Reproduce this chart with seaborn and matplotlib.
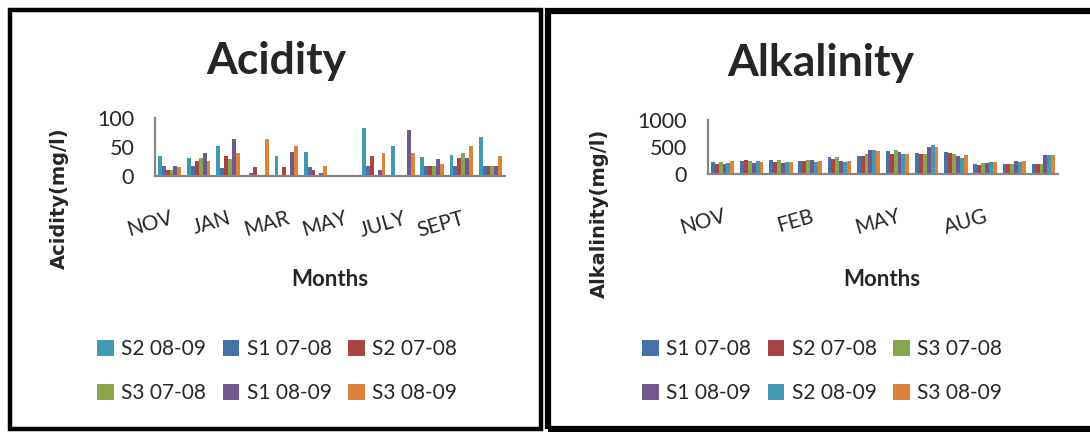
import matplotlib
matplotlib.use("Agg")
import matplotlib.pyplot as plt
from matplotlib.patches import Rectangle
import pandas as pd
import seaborn as sns

months = ["NOV", "DEC", "JAN", "FEB", "MAR", "APR",
          "MAY", "JUN", "JULY", "AUG", "SEPT", "OCT"]

# Acidity (mg/l), one list per station/season
acid_series = ["S2 08-09", "S1 07-08", "S2 07-08", "S3 07-08", "S1 08-09", "S3 08-09"]
acid_s2_0809 = [34, 31, 51, 0, 34, 41, 0, 83, 51, 33, 37, 67]
acid_s1_0708 = [18, 18, 13, 6, 0, 15, 0, 18, 0, 18, 18, 18]
acid_s2_0708 = [10, 26, 34, 15, 15, 10, 0, 34, 0, 18, 31, 18]
acid_s3_0708 = [10, 31, 29, 2, 2, 2, 0, 0, 0, 18, 39, 18]
acid_s1_0809 = [18, 39, 63, 0, 41, 5, 0, 10, 79, 29, 31, 18]
acid_s3_0809 = [15, 26, 39, 63, 51, 18, 0, 39, 39, 20, 51, 34]

# Alkalinity (mg/l)
alk_series = ["S1 07-08", "S2 07-08", "S3 07-08", "S1 08-09", "S2 08-09", "S3 08-09"]
alk_s1_0708 = [224, 244, 263, 244, 308, 340, 423, 397, 404, 192, 179, 192]
alk_s2_0708 = [192, 263, 224, 244, 276, 340, 378, 378, 385, 160, 179, 192]
alk_s3_0708 = [224, 244, 263, 263, 320, 365, 442, 378, 372, 205, 186, 186]
alk_s1_0809 = [192, 205, 205, 263, 237, 449, 404, 506, 333, 205, 237, 353]
alk_s2_0809 = [205, 244, 224, 231, 231, 449, 378, 538, 295, 224, 231, 353]
alk_s3_0809 = [237, 224, 224, 244, 237, 430, 378, 500, 359, 231, 237, 353]

acid_ticks = ["NOV", "JAN", "MAR", "MAY", "JULY", "SEPT"]
alk_ticks = ["NOV", "FEB", "MAY", "AUG"]

colors = {
    "S1 07-08": "#4672A8",
    "S2 07-08": "#A94442",
    "S3 07-08": "#89A54D",
    "S1 08-09": "#71588F",
    "S2 08-09": "#4299B1",
    "S3 08-09": "#DB843A",
}


def long_frame(names, columns):
    rows = []
    for name, vals in zip(names, columns):
        for m, v in zip(months, vals):
            rows.append({"month": m, "series": name, "value": v})
    return pd.DataFrame(rows)


acid_df = long_frame(acid_series, [acid_s2_0809, acid_s1_0708, acid_s2_0708,
                                   acid_s3_0708, acid_s1_0809, acid_s3_0809])
alk_df = long_frame(alk_series, [alk_s1_0708, alk_s2_0708, alk_s3_0708,
                                 alk_s1_0809, alk_s2_0809, alk_s3_0809])

sns.set_style("white")
plt.rcParams["font.family"] = ["Lato", "DejaVu Sans"]

W, H = 1090, 432
fig = plt.figure(figsize=(W / 100, H / 100), dpi=100)


def fx(px):
    return px / W


def fy(py):
    return 1 - py / H


# panel frames
fig.patches.append(Rectangle((fx(10), fy(429)), fx(531), (429 - 10) / H,
                             transform=fig.transFigure, fill=False,
                             edgecolor="black", linewidth=3.2, zorder=0))
fig.patches.append(Rectangle((fx(548), fy(429)), fx(600), (429 - 11) / H,
                             transform=fig.transFigure, fill=False,
                             edgecolor="black", linewidth=4.5, zorder=0))


def panel(rect_px, df, hue_order, ymax, yticks, tick_names, title,
          ylabel, title_xy, ylabel_xy, months_xy, legend_xy):
    x0, y0, x1, y1 = rect_px
    ax = fig.add_axes([fx(x0), fy(y1), (x1 - x0) / W, (y1 - y0) / H])
    sns.barplot(data=df, x="month", y="value", hue="series", order=months,
                hue_order=hue_order, palette=colors, saturation=1,
                width=0.8, errorbar=None, linewidth=0, ax=ax)
    handles, labels = ax.get_legend_handles_labels()
    if ax.get_legend() is not None:
        ax.get_legend().remove()
    ax.set_xlim(-0.5, len(months) - 0.5)
    ax.set_ylim(0, ymax)
    ax.set_yticks(yticks)
    ax.set_yticklabels([str(t) for t in yticks], fontsize=15.5)
    pos = [months.index(m) for m in tick_names]
    ax.set_xticks(pos)
    ax.set_xticklabels(tick_names, fontsize=15, rotation=16,
                       ha="right", va="top", rotation_mode="anchor")
    ax.tick_params(axis="x", length=0, pad=23)
    ax.tick_params(axis="y", length=0, pad=15)
    ax.set_xlabel("")
    ax.set_ylabel("")
    for s in ("top", "right"):
        ax.spines[s].set_visible(False)
    for s in ("left", "bottom"):
        ax.spines[s].set_color("#868686")
        ax.spines[s].set_linewidth(1.6)
    ax.set_facecolor("none")

    fig.text(fx(title_xy[0]), fy(title_xy[1]), title, fontsize=32,
             fontweight="bold", ha="center", va="baseline")
    fig.text(fx(ylabel_xy[0]), fy(ylabel_xy[1]), ylabel, fontsize=14,
             fontweight="bold", family="DejaVu Sans", rotation=90,
             ha="center", va="center")
    fig.text(fx(months_xy[0]), fy(months_xy[1]), "Months", fontsize=16,
             fontweight="bold", ha="center", va="center")

    order = [0, 3, 1, 4, 2, 5]
    fig.legend([handles[i] for i in order], [labels[i] for i in order],
               ncol=3, loc="center", bbox_to_anchor=(fx(legend_xy[0]), fy(legend_xy[1])),
               frameon=False, fontsize=15, handlelength=0.8, handleheight=0.8,
               handletextpad=0.35, columnspacing=0.8, labelspacing=1.15)
    return ax


panel((155, 118, 505, 176), acid_df, acid_series, 100, [0, 50, 100],
      acid_ticks, "Acidity", "Acidity(mg/l)",
      (276, 74), (59, 198), (330, 279), (277, 371))

panel((708, 120, 1058, 174), alk_df, alk_series, 1000, [0, 500, 1000],
      alk_ticks, "Alkalinity", "Alkalinity(mg/l)",
      (821, 76), (599, 213), (882, 279), (822, 371))

fig.savefig("out.png", dpi=100)
